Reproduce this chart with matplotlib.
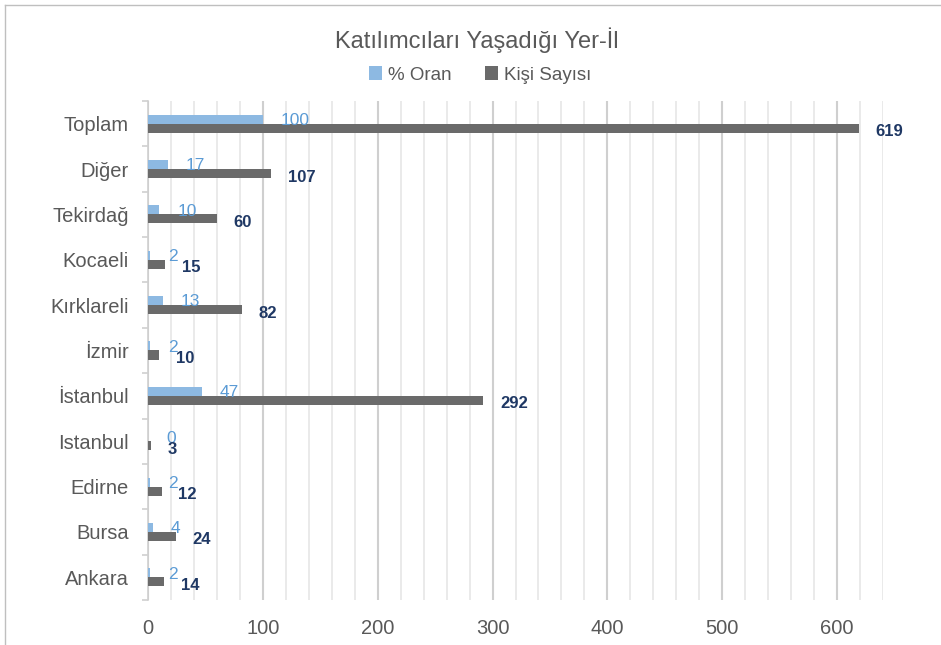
import numpy as np
import matplotlib
matplotlib.use("Agg")
import matplotlib.pyplot as plt
from matplotlib.lines import Line2D
from matplotlib.ticker import MultipleLocator

plt.rcParams["font.family"] = ["Liberation Sans", "DejaVu Sans"]

iller = ["Ankara", "Bursa", "Edirne", "Istanbul", "İstanbul", "İzmir",
         "Kırklareli", "Kocaeli", "Tekirdağ", "Diğer", "Toplam"]
oran = [2, 4, 2, 0, 47, 2, 13, 2, 10, 17, 100]
kisi = [14, 24, 12, 3, 292, 10, 82, 15, 60, 107, 619]

light = "#8DB9E2"
light_txt = "#5B9BD5"
dark = "#6A6A6A"
dark_txt = "#1F3864"
grid_minor = "#E6E6E6"
grid_major = "#CFCFCF"

fig = plt.figure(figsize=(9.41, 6.45), dpi=100)
ax = fig.add_axes([148/941, 1-600/645, (883-148)/941, (600-101)/645])

y = np.arange(len(iller))
h = 0.2
b1 = ax.barh(y + h/2, oran, height=h, color=light, label="% Oran", zorder=3)
b2 = ax.barh(y - h/2, kisi, height=h, color=dark, label="Kişi Sayısı", zorder=3)

for yi, v in zip(y, oran):
    ax.annotate(str(v), (v, yi + h/2), xytext=(13, -1), textcoords="offset points",
                va="center", ha="left", color=light_txt, fontsize=12.5)
for yi, v in zip(y, kisi):
    ax.annotate(str(v), (v, yi - h/2), xytext=(12, -2.5), textcoords="offset points",
                va="center", ha="left", color=dark_txt, fontsize=12, fontweight="bold")

ax.set_xlim(0, 640)
ax.set_ylim(-0.5, len(iller) - 0.5)
ax.set_xticks(np.arange(0, 700, 100))
ax.xaxis.set_minor_locator(MultipleLocator(20))
ax.set_yticks(y)
ax.set_yticklabels(iller)
ax.set_yticks(np.arange(-0.5, len(iller), 1), minor=True)

ax.grid(axis="x", which="minor", color=grid_minor, lw=1.2, zorder=0)
ax.grid(axis="x", which="major", color=grid_major, lw=1.5, zorder=0)
ax.set_axisbelow(True)

for s in ["top", "right", "bottom"]:
    ax.spines[s].set_visible(False)
ax.spines["left"].set_color("#D0D0D0")
ax.spines["left"].set_linewidth(1.2)

ax.tick_params(axis="x", which="both", length=0, pad=14, labelsize=14.5, labelcolor="#595959")
ax.tick_params(axis="y", which="major", length=0, pad=14, labelsize=14.5, labelcolor="#595959")
ax.tick_params(axis="y", which="minor", length=4, color="#D0D0D0", width=1.2)

fig.text(0.507, 1-40/645, "Katılımcıları Yaşadığı Yer-İl", ha="center", va="center",
         fontsize=17, color="#595959")
fig.legend(handles=[b1, b2], loc="center", bbox_to_anchor=(0.51, 1-75/645), ncol=2,
           frameon=False, fontsize=13.5, labelcolor="#595959", handlelength=0.7,
           handleheight=0.7, handletextpad=0.3, columnspacing=1.8)

# chart border (cropped on right/bottom)
fig.add_artist(Line2D([5/941, 5/941], [0, 1-5/645], transform=fig.transFigure,
                      color="#BFBFBF", lw=1))
fig.add_artist(Line2D([5/941, 1], [1-5/645, 1-5/645], transform=fig.transFigure,
                      color="#BFBFBF", lw=1))

fig.savefig("out.png", dpi=100)
